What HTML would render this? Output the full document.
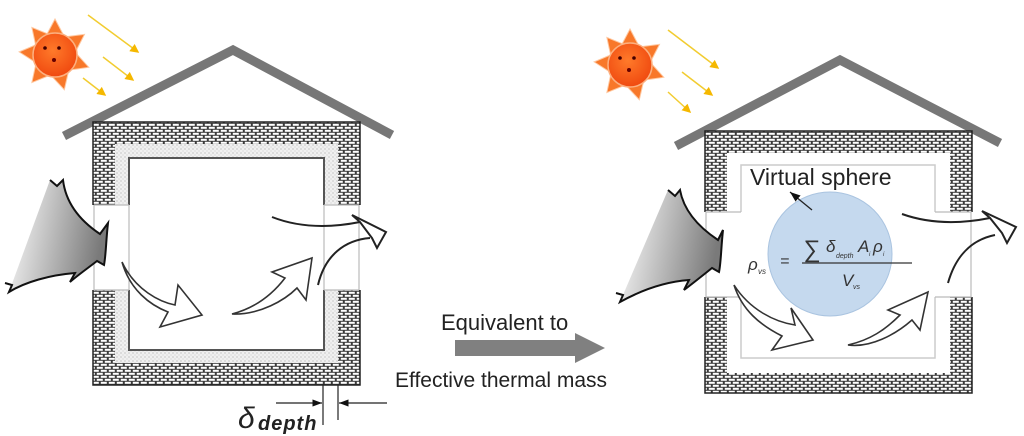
<!DOCTYPE html>
<html><head><style>
html,body{margin:0;padding:0;background:#fff;width:1024px;height:436px;overflow:hidden}
svg{display:block}
text{font-family:"Liberation Sans",sans-serif}
</style></head><body>
<svg width="1024" height="436" viewBox="0 0 1024 436" xmlns="http://www.w3.org/2000/svg">
<defs>
<pattern id="brick" width="8" height="6" patternUnits="userSpaceOnUse">
<rect width="8" height="6" fill="#3a3a3a"/>
<rect x="0.8" y="0.8" width="6" height="2" fill="#fff"/>
<rect x="4.8" y="3.8" width="3.2" height="2" fill="#fff"/><rect x="0" y="3.8" width="2.8" height="2" fill="#fff"/>
</pattern>
<pattern id="dots" width="4" height="4" patternUnits="userSpaceOnUse">
<rect width="4" height="4" fill="#f0f0f0"/><circle cx="1" cy="1" r="0.6" fill="#aaa"/><circle cx="3" cy="3" r="0.5" fill="#bbb"/>
</pattern>
<linearGradient id="wind" x1="0" y1="0" x2="1" y2="0.2">
<stop offset="0" stop-color="#fff"/><stop offset="1" stop-color="#7a7a7a"/>
</linearGradient>
<radialGradient id="sun" cx="0.45" cy="0.4" r="0.6"><stop offset="0" stop-color="#ff7a2a"/><stop offset="1" stop-color="#f04a10"/></radialGradient>
<marker id="ya" markerWidth="6" markerHeight="6" refX="5" refY="3" orient="auto"><path d="M0,0 L6,3 L0,6 Z" fill="#f5b800"/></marker>
<marker id="ka" markerWidth="8" markerHeight="6" refX="8" refY="3" orient="auto"><path d="M0,0 L8,3 L0,6 Z" fill="#111"/></marker>
<g id="sunG">
<g fill="#f8782a" stroke="#ffc8a0" stroke-width="1">
<polygon points="0,-36 -9,-19 9,-19"/><polygon points="0,-36 -9,-19 9,-19" transform="rotate(55)"/>
<polygon points="0,-36 -9,-19 9,-19" transform="rotate(110)"/><polygon points="0,-36 -9,-19 9,-19" transform="rotate(165)"/>
<polygon points="0,-36 -9,-19 9,-19" transform="rotate(220)"/><polygon points="0,-36 -9,-19 9,-19" transform="rotate(275)"/>
<polygon points="0,-36 -9,-19 9,-19" transform="rotate(320)"/>
</g>
<circle r="22" fill="url(#sun)" stroke="#fcb080" stroke-width="1.5"/>
<circle cx="-10" cy="-7" r="1.8" fill="#400"/><circle cx="4" cy="-7" r="1.8" fill="#400"/><circle cx="-1" cy="5" r="2" fill="#600"/>
</g>
</defs>

<use href="#sunG" x="55" y="55"/>
<g stroke="#f2cc30" stroke-width="1.5" marker-end="url(#ya)">
<line x1="88" y1="15" x2="138" y2="52"/><line x1="103" y1="57" x2="133" y2="80"/><line x1="83" y1="78" x2="105" y2="95"/>
</g>
<polyline points="64,136 233,50 392,135" fill="none" stroke="#777" stroke-width="9"/>
<rect x="93" y="122" width="267" height="263" fill="url(#brick)" stroke="#222" stroke-width="1.5"/>
<rect x="115" y="144" width="223" height="219" fill="url(#dots)"/>
<rect x="129" y="158" width="195" height="192" fill="#fff" stroke="#555" stroke-width="2"/>
<rect x="92" y="205" width="38" height="85" fill="#fff"/>
<rect x="323" y="205" width="39" height="85" fill="#fff"/>
<g stroke="#bbb" stroke-width="1.2" fill="none">
<line x1="94" y1="205" x2="94" y2="290"/><line x1="129" y1="205" x2="129" y2="290"/>
<line x1="324" y1="205" x2="324" y2="290"/><line x1="359" y1="205" x2="359" y2="290"/>
<line x1="94" y1="205" x2="129" y2="205"/><line x1="94" y1="290" x2="129" y2="290"/>
<line x1="324" y1="205" x2="359" y2="205"/><line x1="324" y1="290" x2="359" y2="290"/>
</g>
<path d="M50,180 L57,186 L63,180 C66,205 82,222 100,234 L108,223 C106,240 106,255 104,265 L97,261 C88,268 78,275 70,282 L75,273 C50,275 25,282 9,292 Z" fill="url(#wind)" stroke="none"/>
<path d="M50,180 L57,186 L63,180 C66,205 82,222 100,234 L108,223 C106,240 106,255 104,265 L97,261 C88,268 78,275 70,282 L75,273 C50,275 25,282 9,292 L12,285 L5,283" fill="none" stroke="#111" stroke-width="2"/>
<g fill="#fff" stroke="#333" stroke-width="1.6">
<path d="M122,262 C135,290 160,302 175,305 L178,285 L202,315 L160,327 L168,312 C150,305 130,290 122,262 Z"/>
<path d="M232,314 C255,308 272,295 285,278 L272,272 L312,258 L306,300 L297,288 C285,300 260,315 232,314 Z"/>
</g>
<g fill="none" stroke="#222" stroke-width="2">
<path d="M272,217 C300,228 330,228 360,222"/>
<path d="M318,285 C325,255 345,240 370,238"/>
</g>
<path d="M352,215 L386,232 L377,248 L372,238 L360,222 Z" fill="#fff" stroke="#222" stroke-width="2"/>
<g stroke="#222" stroke-width="1.2">
<line x1="323" y1="385" x2="323" y2="425"/><line x1="338" y1="385" x2="338" y2="420"/>
<line x1="276" y1="403" x2="322" y2="403" marker-end="url(#ka)"/>
<line x1="387" y1="403" x2="339" y2="403" marker-end="url(#ka)"/>
</g>
<text x="238" y="428" font-family="Liberation Serif,serif" font-size="30" font-style="italic" fill="#222">δ</text>
<text x="258" y="430" font-family="Liberation Serif,serif" font-size="20" font-style="italic" font-weight="bold" fill="#222" letter-spacing="1">depth</text>

<text x="441" y="330" font-size="22" fill="#222">Equivalent to</text>
<polygon points="455,340 575,340 575,333 605,348 575,363 575,356 455,356" fill="#808080"/>
<text x="395" y="387" font-size="21" fill="#222">Effective thermal mass</text>

<use href="#sunG" x="630" y="65"/>
<g stroke="#f2cc30" stroke-width="1.5" marker-end="url(#ya)">
<line x1="668" y1="30" x2="718" y2="68"/><line x1="682" y1="72" x2="712" y2="95"/><line x1="668" y1="92" x2="690" y2="112"/>
</g>
<polyline points="676,146 840,60 1000,143" fill="none" stroke="#777" stroke-width="9"/>
<rect x="705" y="131" width="267" height="262" fill="url(#brick)" stroke="#222" stroke-width="1.5"/>
<rect x="727" y="153" width="223" height="220" fill="#fff"/>
<rect x="741" y="165" width="194" height="193" fill="none" stroke="#ccc" stroke-width="1.5"/>
<rect x="704" y="212" width="38" height="85" fill="#fff"/>
<rect x="934" y="212" width="39" height="85" fill="#fff"/>
<g stroke="#bbb" stroke-width="1.2" fill="none">
<polyline points="741,212 706,212 706,297 741,297"/>
<polyline points="935,212 971,212 971,297 935,297"/>
</g>
<circle cx="830" cy="254" r="62" fill="#c5d9ee" stroke="#aac4e0" stroke-width="1"/>
<text x="750" y="185" font-size="23" fill="#222">Virtual sphere</text>
<line x1="812" y1="210" x2="790" y2="192" stroke="#222" stroke-width="1.3" marker-end="url(#ka)"/>
<g font-style="italic" fill="#333">
<text x="748" y="270" font-size="17">ρ</text><text x="758" y="274" font-size="8">vs</text>
<text x="780" y="266" font-size="16">=</text>
<text x="803" y="257" font-size="24">∑</text>
<text x="826" y="252" font-size="17">δ</text><text x="836" y="258" font-size="7">depth</text>
<text x="858" y="252" font-size="17">A</text><text x="869" y="256" font-size="6">i</text>
<text x="873" y="252" font-size="17">ρ</text><text x="883" y="256" font-size="6">i</text>
<text x="842" y="286" font-size="17">V</text><text x="853" y="289" font-size="7">vs</text>
</g>
<line x1="802" y1="263" x2="912" y2="263" stroke="#333" stroke-width="1.3"/>
<path d="M668,190 L675,196 L680,190 C684,212 700,228 718,240 L723,230 C721,248 721,263 719,272 L712,268 C702,276 692,284 684,290 L689,280 C662,282 638,292 620,302 Z" fill="url(#wind)"/>
<path d="M668,190 L675,196 L680,190 C684,212 700,228 718,240 L723,230 C721,248 721,263 719,272 L712,268 C702,276 692,284 684,290 L689,280 C662,282 638,292 620,302 L623,295 L616,293" fill="none" stroke="#111" stroke-width="2"/>
<g fill="#fff" stroke="#333" stroke-width="1.6">
<path d="M734,285 C750,310 775,322 795,325 L791,308 L813,340 L772,350 L782,336 C760,325 742,310 734,285 Z"/>
<path d="M848,345 C870,340 885,330 900,315 L888,310 L928,292 L920,330 L912,320 C895,335 870,348 848,345 Z"/>
</g>
<g fill="none" stroke="#222" stroke-width="2">
<path d="M902,214 C930,224 960,224 990,218"/>
<path d="M948,283 C955,258 970,240 995,235"/>
</g>
<path d="M982,211 L1016,227 L1007,243 L1002,233 L990,218 Z" fill="#fff" stroke="#222" stroke-width="2"/>
</svg>
</body></html>
